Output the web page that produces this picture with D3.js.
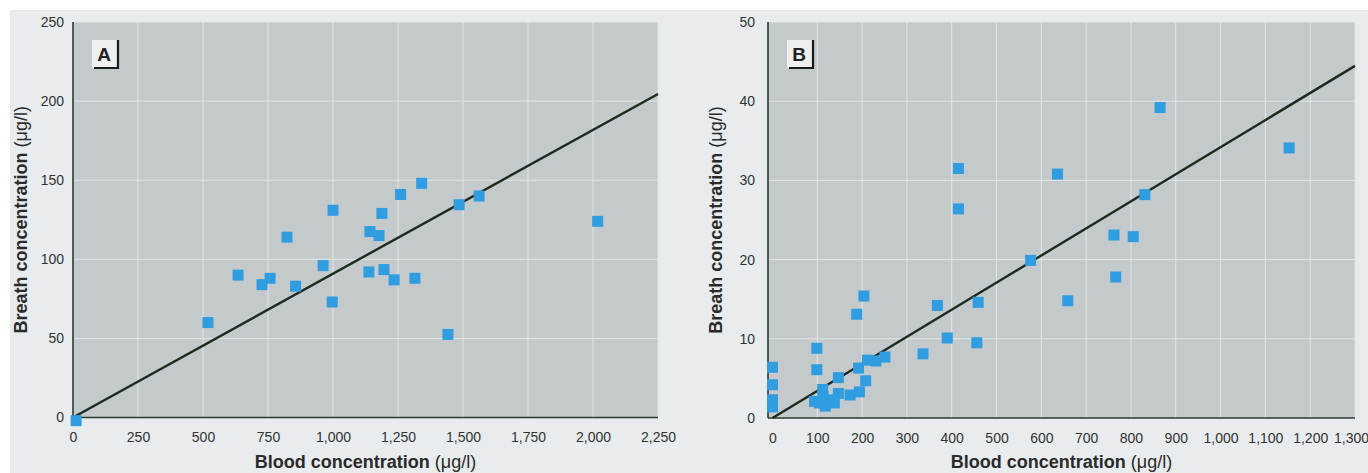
<!DOCTYPE html>
<html>
<head>
<meta charset="utf-8">
<script src="https://cdn.jsdelivr.net/npm/d3@7"></script>
<style>
  html, body { margin: 0; padding: 0; background: #ffffff; }
  svg { display: block; }
  text { font-family: "Liberation Sans Narrow", "Arial Narrow", "Liberation Sans", sans-serif; }
</style>
</head>
<body>
<div id="chart"></div>
<script>
// Panel A: blood vs breath concentration (µg/l).
const aBlood  = [12, 519, 635, 727, 758, 823, 856, 962, 997, 1000, 1142, 1177, 1188, 1260, 1341, 1485, 1562, 2018, 1138, 1196, 1235, 1315, 1442];
const aBreath = [-2, 60, 90, 84, 88, 114, 83, 96, 73, 131, 117.5, 115, 129, 141, 148, 134.5, 140, 124, 92, 93.5, 87, 88, 52.5];
const aXTicks = [0, 250, 500, 750, 1000, 1250, 1500, 1750, 2000, 2250];
const aYTicks = [0, 50, 100, 150, 200, 250];
const aFit = {slope: 0.0909, intercept: 0};

// Panel B.
const bBlood  = [0, 0, 0, 0, 99, 99, 94, 112, 113, 117, 128, 138, 147, 147, 173, 192, 194, 208, 212, 231, 251, 188, 204, 336, 368, 390, 459, 456, 576, 415, 415, 636, 831, 865, 1153, 762, 805, 766, 659, 118, 105];
const bBreath = [6.4, 4.2, 2.3, 1.4, 8.8, 6.1, 2.1, 3.6, 2.7, 1.8, 2.3, 1.9, 5.1, 3.1, 2.9, 6.3, 3.3, 4.7, 7.3, 7.2, 7.7, 13.1, 15.4, 8.1, 14.2, 10.1, 14.6, 9.5, 19.9, 31.5, 26.4, 30.8, 28.2, 39.2, 34.1, 23.1, 22.9, 17.8, 14.8, 1.5, 1.9];
const bXTicks = [0, 100, 200, 300, 400, 500, 600, 700, 800, 900, 1000, 1100, 1200, 1300];
const bYTicks = [0, 10, 20, 30, 40, 50];
const bFit = {slope: 0.0342, intercept: 0};

const W = 1368, H = 473;
const svg = d3.select('#chart').append('svg')
    .attr('width', W)
    .attr('height', H);

// Page background: light panel with a white strip top and left.
svg.append('rect')
    .attr('x', 10).attr('y', 10)
    .attr('width', W - 10).attr('height', H - 10)
    .attr('fill', '#e8ecee');

const fmt = d3.format(',');

function drawPanel(p) {
    const x = d3.scaleLinear().domain(p.xDomain).range([p.left, p.right]);
    const y = d3.scaleLinear().domain(p.yDomain).range([p.bottom, p.top]);
    const g = svg.append('g');

    // Plot background.
    g.append('rect')
        .attr('x', p.left).attr('y', p.top)
        .attr('width', p.right - p.left).attr('height', p.bottom - p.top)
        .attr('fill', '#c4c9cb');

    // Grid lines.
    g.append('g')
        .selectAll('line.v')
        .data(p.xTicks.filter(t => t > 0))
        .join('line')
            .attr('x1', d => x(d)).attr('x2', d => x(d))
            .attr('y1', p.top).attr('y2', p.bottom)
            .attr('stroke', '#e2e6e8')
            .attr('stroke-width', 1);
    g.append('g')
        .selectAll('line.h')
        .data(p.yTicks.filter(t => t > 0))
        .join('line')
            .attr('x1', p.left).attr('x2', p.right)
            .attr('y1', d => y(d)).attr('y2', d => y(d))
            .attr('stroke', '#e2e6e8')
            .attr('stroke-width', 1);

    // Axes.
    const xAxis = g.append('g')
        .attr('transform', `translate(0,${p.bottom})`)
        .call(d3.axisBottom(x).tickValues(p.xTicks).tickSize(0).tickPadding(15).tickFormat(fmt));
    xAxis.select('.domain').attr('stroke', '#2b3a2e').attr('stroke-width', 1.6).attr('d', `M${p.left},0H${p.right}`);
    xAxis.selectAll('text')
        .attr('fill', '#333')
        .style('font-size', '14px');
    // Keep the last tick label inside the page.
    if (p.lastTickShift) {
        xAxis.selectAll('.tick').filter(d => d === p.xTicks[p.xTicks.length - 1])
            .select('text').attr('dx', p.lastTickShift);
    }

    const yAxis = g.append('g')
        .attr('transform', `translate(${p.left},0)`)
        .call(d3.axisLeft(y).tickValues(p.yTicks).tickSize(0).tickPadding(p.yPad).tickFormat(fmt));
    yAxis.select('.domain').attr('stroke', '#2b3a2e').attr('stroke-width', 1.6).attr('d', `M0,${p.top}V${p.bottom}`);
    yAxis.selectAll('text')
        .attr('fill', '#333')
        .style('font-size', '14px');

    // Regression line.
    g.append('line')
        .attr('x1', x(0)).attr('y1', y(p.fit.intercept))
        .attr('x2', x(p.xDomain[1])).attr('y2', y(p.fit.intercept + p.fit.slope * p.xDomain[1]))
        .attr('stroke', '#1d2b1f')
        .attr('stroke-width', 2.4);

    // Points.
    const s = 11;
    g.append('g')
        .selectAll('rect')
        .data(p.xs.map((v, i) => ({x: v, y: p.ys[i]})))
        .join('rect')
            .attr('x', d => x(d.x) - s / 2)
            .attr('y', d => y(d.y) - s / 2)
            .attr('width', s).attr('height', s)
            .attr('fill', '#2f9de0');

    // Panel label box.
    const bx = p.left + 19, by = p.top + 18, bw = 26, bh = 28;
    g.append('rect')
        .attr('x', bx).attr('y', by)
        .attr('width', bw).attr('height', bh)
        .attr('fill', '#eef0f0');
    g.append('path')
        .attr('d', `M${bx + bw},${by}V${by + bh}H${bx + 2}`)
        .attr('fill', 'none')
        .attr('stroke', '#1a1a1a')
        .attr('stroke-width', 2.2);
    g.append('text')
        .attr('x', bx + bw / 2 - 1).attr('y', by + 21)
        .attr('text-anchor', 'middle')
        .style('font-size', '19px')
        .style('font-weight', 'bold')
        .attr('fill', '#222')
        .text(p.label);

    // Axis titles.
    const xt = g.append('text')
        .attr('x', (p.left + p.right) / 2).attr('y', 468)
        .attr('text-anchor', 'middle')
        .attr('fill', '#2a2a2a')
        .style('font-size', '18px');
    xt.append('tspan').style('font-weight', 'bold').text('Blood concentration ');
    xt.append('tspan').text('(μg/l)');

    const yt = g.append('text')
        .attr('transform', `translate(${p.left - 46},${(p.top + p.bottom) / 2}) rotate(-90)`)
        .attr('text-anchor', 'middle')
        .attr('fill', '#2a2a2a')
        .style('font-size', '18px');
    yt.append('tspan').style('font-weight', 'bold').text('Breath concentration ');
    yt.append('tspan').text('(μg/l)');
}

drawPanel({
    label: 'A',
    left: 73, right: 658, top: 22, bottom: 417.5,
    xDomain: [0, 2250], yDomain: [0, 250],
    xTicks: aXTicks, yTicks: aYTicks, yPad: 9,
    xs: aBlood, ys: aBreath, fit: aFit
});

drawPanel({
    label: 'B',
    left: 768, right: 1355, top: 22, bottom: 418,
    xDomain: [-10, 1300], yDomain: [0, 50],
    xTicks: bXTicks, yTicks: bYTicks, yPad: 13,
    xs: bBlood, ys: bBreath, fit: bFit,
    lastTickShift: -4
});
</script>
</body>
</html>
